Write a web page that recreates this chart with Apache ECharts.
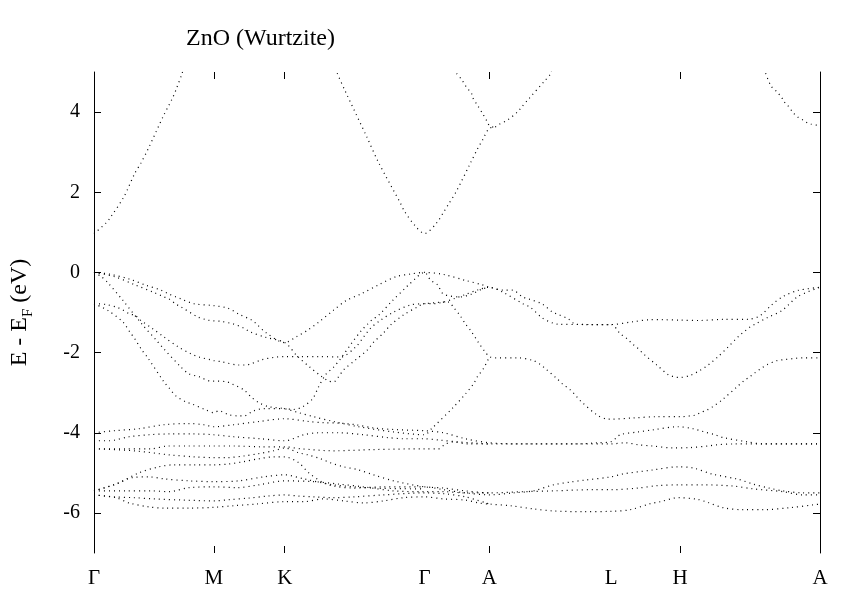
<!DOCTYPE html>
<html>
<head>
<meta charset="utf-8">
<script src="https://cdn.jsdelivr.net/npm/echarts@6/dist/echarts.min.js"></script>
<style>
  html, body { margin: 0; padding: 0; background: #fff; }
  #chart { width: 861px; height: 603px; }
</style>
</head>
<body>
<div id="chart"></div>
<script>
// k-path positions (distance along the path) and their labels
var kPos = [0, 120, 191, 331, 396, 518, 587, 727];
var kLabels = ['Γ', 'M', 'K', 'Γ', 'A', 'L', 'H', 'A'];
var kTicks = [120, 191, 396, 587];      // M, K, A, H get tick marks
var eTicks = [-6, -4, -2, 0, 2, 4];

// conduction band pieces (E - EF in eV)
var cbGM = [[0,0.97],[12,1.23],[17,1.39],[30,1.89],[41,2.48],[47,2.73],[54,3.07],[70,3.93],[75,4.17],[79,4.37],[82,4.55],[88,4.95],[91,5.2]];
var cbKGAL = [[240,5.2],[243,5.0],[252,4.5],[273,3.39],[285,2.74],[307,1.72],[311,1.52],[322,1.15],[331,0.97],
  [343,1.23],[350,1.5],[355,1.7],[363,2.03],[377,2.73],[384,3.08],[389,3.3],[396,3.6],[401,3.62],
  [406,3.7],[414,3.8],[424,4.0],[428,4.12],[435,4.32],[452,4.8],[457,4.95],[460,5.2]];
var cbGA = [[360,5.2],[363,4.97],[368,4.82],[373,4.62],[378,4.47],[379,4.37],[384,4.17],[389,3.97],[394,3.75],[396,3.66],[401,3.62]];
var cbHA = [[669,5.2],[672,5.0],[678,4.65],[684,4.5],[689,4.35],[690,4.28],[694,4.19],[700,3.99],[705,3.87],[710,3.8],[715,3.72],[718,3.7],[727,3.66]];

// O 2p valence bands (on the A-L-H-A face bands come in pairs, one of each pair listed)
var vbA = [[0,0],[15,-0.04],[36,-0.17],[52,-0.32],[67,-0.44],[75,-0.54],[82,-0.61],[87,-0.66],[100,-0.78],[120,-0.83],
  [134,-0.89],[145,-1.04],[158,-1.19],[162,-1.27],[172,-1.5],[191,-1.75],
  [203,-1.6],[214,-1.44],[225,-1.24],[240,-0.94],[252,-0.71],[267,-0.54],[285,-0.31],[302,-0.11],[317,-0.04],[331,0],
  [350,-0.05],[372,-0.2],[389,-0.31],[396,-0.37],
  [410,-0.44],[419,-0.44],[429,-0.61],[435,-0.66],[449,-0.79],[459,-0.99],[464,-1.04],[475,-1.16],[482,-1.29],[499,-1.3],[518,-1.3],
  [540,-1.23],[557,-1.18],[569,-1.18],[587,-1.19],[607,-1.2],[630,-1.17],[655,-1.17],[667,-1.08],[679,-0.8],[690,-0.6],[705,-0.45],[727,-0.37]];
var vbB = [[0,0],[20,-0.1],[40,-0.3],[60,-0.5],[70,-0.61],[75,-0.66],[82,-0.79],[87,-0.86],[104,-1.11],[114,-1.19],[120,-1.21],
  [127,-1.22],[140,-1.29],[150,-1.39],[157,-1.49],[172,-1.62],[191,-1.75],
  [204,-2.1],[216,-2.36],[227,-2.58],[235,-2.71],[240,-2.73],[245,-2.6],[250,-2.43],[262,-2.18],[274,-1.93],[280,-1.74],[290,-1.51],[297,-1.31],[310,-1.06],[324,-0.86],[331,-0.78],
  [340,-0.78],[350,-0.74],[360,-0.66],[372,-0.55],[385,-0.43],[396,-0.37],
  [410,-0.5],[430,-0.79],[437,-0.87],[449,-1.14],[459,-1.26],[464,-1.29],[490,-1.3],[518,-1.3],
  [527,-1.53],[534,-1.66],[539,-1.78],[544,-1.88],[551,-2.05],[564,-2.32],[575,-2.55],[582,-2.61],[587,-2.62],
  [597,-2.57],[607,-2.44],[615,-2.31],[625,-2.1],[635,-1.86],[642,-1.68],[647,-1.56],[652,-1.46],[657,-1.36],[662,-1.29],[674,-1.13],[689,-0.95],[705,-0.6],[727,-0.37]];
var vbC = [[0,-0.78],[12,-0.8],[24,-0.88],[29,-0.94],[36,-1.04],[41,-1.07],[47,-1.2],[58,-1.39],[70,-1.61],[84,-1.85],[97,-2.03],[105,-2.11],[117,-2.18],[120,-2.2],
  [128,-2.23],[145,-2.31],[152,-2.31],[157,-2.28],[168,-2.18],[180,-2.12],[191,-2.1],
  [205,-2.1],[225,-2.1],[247,-2.11],[262,-1.86],[270,-1.61],[277,-1.39],[287,-1.19],[300,-0.99],[317,-0.81],[331,-0.78],
  [344,-0.75],[355,-0.74],[360,-0.87],[367,-1.09],[372,-1.29],[377,-1.44],[385,-1.75],[391,-1.96],[396,-2.1],
  [402,-2.13],[424,-2.13],[440,-2.2],[447,-2.3],[452,-2.4],[464,-2.66],[469,-2.78],[477,-2.93],[482,-3.06],[487,-3.2],[504,-3.56],[515,-3.66],[518,-3.66],
  [540,-3.63],[564,-3.6],[587,-3.6],[597,-3.58],[602,-3.56],[607,-3.5],[614,-3.43],[619,-3.36],[629,-3.18],[645,-2.83],[651,-2.7],[657,-2.6],[662,-2.5],[669,-2.38],[674,-2.3],[684,-2.2],[690,-2.18],[700,-2.15],[710,-2.13],[727,-2.13]];
var vbD = [[0,-0.78],[14,-0.95],[29,-1.24],[36,-1.49],[41,-1.66],[48,-1.94],[53,-2.1],[70,-2.73],[75,-2.88],[82,-3.08],[92,-3.23],[98,-3.28],[112,-3.43],[120,-3.5],
  [125,-3.45],[135,-3.55],[145,-3.58],[150,-3.58],[160,-3.45],[170,-3.4],[191,-3.4],
  [200,-3.42],[209,-3.35],[219,-3.15],[225,-2.85],[232,-2.55],[240,-2.36],[247,-2.15],[257,-1.8],[268,-1.44],[274,-1.29],[279,-1.17],[285,-1.07],[299,-0.7],[311,-0.41],[316,-0.29],[331,0],
  [337,-0.19],[344,-0.31],[350,-0.54],[367,-0.61],[378,-0.54],[389,-0.41],[396,-0.37]];
var vbE = [[0,0],[7,-0.1],[14,-0.26],[29,-0.7],[48,-1.29],[63,-1.71],[70,-1.91],[87,-2.36],[95,-2.53],[105,-2.6],[117,-2.71],[120,-2.71],
  [133,-2.73],[138,-2.78],[150,-2.93],[157,-3.1],[165,-3.25],[175,-3.35],[191,-3.4],
  [205,-3.5],[220,-3.6],[240,-3.72],[265,-3.85],[300,-3.98],[331,-4.05],
  [338,-3.9],[360,-3.36],[372,-3.03],[380,-2.78],[384,-2.6],[390,-2.4],[396,-2.1]];

// Zn 3d bands
var dbA = [[0,-4.0],[20,-3.95],[45,-3.9],[70,-3.8],[95,-3.77],[110,-3.8],[120,-3.85],
  [140,-3.8],[165,-3.72],[191,-3.65],
  [215,-3.72],[230,-3.75],[245,-3.76],[262,-3.8],[280,-3.88],[300,-3.92],[331,-3.95],
  [350,-4.0],[372,-4.15],[396,-4.25],
  [430,-4.28],[480,-4.28],[505,-4.25],[518,-4.22],[527,-4.05],[545,-3.98],[559,-3.93],[585,-3.85],[600,-3.9],[610,-3.97],[622,-4.05],[630,-4.12],[655,-4.23],[670,-4.28],[727,-4.28]];
var dbB = [[0,-4.2],[15,-4.2],[35,-4.1],[55,-4.05],[75,-4.03],[100,-4.03],[120,-4.05],
  [140,-4.1],[167,-4.15],[191,-4.2],
  [210,-4.05],[225,-4.0],[245,-4.0],[270,-4.05],[294,-4.12],[310,-4.15],[331,-4.15],
  [345,-4.18],[365,-4.23],[396,-4.28]];
var dbC = [[0,-4.4],[30,-4.4],[57,-4.4],[74,-4.33],[95,-4.33],[120,-4.33],
  [140,-4.33],[167,-4.35],[191,-4.35],
  [207,-4.4],[240,-4.45],[280,-4.42],[331,-4.4],
  [345,-4.4],[352,-4.28],[360,-4.23],[375,-4.28],[396,-4.28],
  [440,-4.28],[518,-4.28],[532,-4.25],[545,-4.3],[559,-4.33],[580,-4.38],[597,-4.37],[615,-4.33],[624,-4.3],[640,-4.28],[727,-4.28]];
var dbD = [[0,-4.4],[40,-4.45],[75,-4.55],[100,-4.6],[120,-4.62],
  [133,-4.62],[150,-4.58],[165,-4.52],[180,-4.45],[191,-4.38],
  [205,-4.5],[214,-4.55],[227,-4.65],[237,-4.75],[250,-4.85],[264,-4.92],[280,-5.05],[300,-5.2],[331,-5.35],
  [350,-5.38],[372,-5.45],[396,-5.5],
  [430,-5.47],[460,-5.45],[500,-5.42],[518,-5.42],[545,-5.38],[564,-5.32],[587,-5.3],[610,-5.3],[640,-5.33],[660,-5.4],[690,-5.47],[710,-5.55],[727,-5.55]];
var dbE = [[0,-5.45],[25,-5.25],[45,-5.0],[65,-4.85],[80,-4.8],[100,-4.8],[120,-4.8],
  [135,-4.78],[150,-4.72],[165,-4.65],[180,-4.6],[191,-4.6],
  [205,-4.75],[215,-5.0],[230,-5.25],[240,-5.33],[260,-5.38],[290,-5.35],[331,-5.35],
  [350,-5.42],[372,-5.5],[396,-5.55],
  [420,-5.5],[440,-5.45],[460,-5.3],[477,-5.23],[492,-5.18],[518,-5.1],[529,-5.03],[559,-4.93],[585,-4.85],[600,-4.88],[619,-5.03],[645,-5.16],[660,-5.28],[676,-5.38],[690,-5.45],[710,-5.5],[727,-5.5]];
var dbF = [[0,-5.45],[30,-5.45],[57,-5.45],[75,-5.47],[95,-5.37],[120,-5.35],
  [143,-5.37],[165,-5.3],[191,-5.2],
  [220,-5.22],[245,-5.28],[270,-5.35],[300,-5.45],[331,-5.47],
  [350,-5.47],[372,-5.5],[396,-5.5]];
var dbG = [[0,-5.55],[22,-5.62],[35,-5.75],[55,-5.85],[70,-5.88],[95,-5.88],[120,-5.86],
  [140,-5.82],[162,-5.78],[191,-5.72],
  [210,-5.72],[230,-5.65],[250,-5.7],[270,-5.75],[290,-5.7],[310,-5.62],[331,-5.6],
  [350,-5.65],[372,-5.68],[385,-5.75],[396,-5.78],
  [417,-5.82],[440,-5.9],[460,-5.95],[490,-5.97],[518,-5.96],[537,-5.92],[557,-5.77],[567,-5.72],[585,-5.62],[604,-5.66],[615,-5.74],[630,-5.87],[650,-5.92],[670,-5.92],[697,-5.87],[720,-5.8],[727,-5.78]];
var dbH = [[0,-5.55],[20,-5.6],[40,-5.62],[60,-5.65],[90,-5.68],[120,-5.7],
  [135,-5.67],[155,-5.63],[174,-5.58],[191,-5.55],
  [205,-5.58],[220,-5.6],[240,-5.62],[260,-5.6],[290,-5.55],[331,-5.5],
  [350,-5.52],[372,-5.6],[396,-5.78]];
var dbI = [[0,-5.45],[20,-5.3],[38,-5.12],[55,-5.1],[70,-5.15],[95,-5.2],[120,-5.22],
  [145,-5.2],[170,-5.1],[191,-5.05],
  [210,-5.15],[240,-5.3],[280,-5.38],[331,-5.4]];

var bands = [cbGM, cbKGAL, cbGA, cbHA, vbA, vbB, vbC, vbD, vbE,
  dbA, dbB, dbC, dbD, dbE, dbF, dbG, dbH, dbI];

var serif = "'Liberation Serif', 'DejaVu Serif', serif";

var myChart = echarts.init(document.getElementById('chart'));

var series = bands.map(function(b) {
    return {
        type: 'line',
        data: b,
        showSymbol: false,
        smooth: 0.3,
        silent: true,
        lineStyle: { color: '#000', width: 1.2, type: [1, 4] }
    };
});

var option = {
    animation: false,
    backgroundColor: '#fff',
    title: {
        text: 'ZnO (Wurtzite)',
        left: 181,
        top: 22,
        textStyle: { fontFamily: serif, fontSize: 24, fontWeight: 'normal', color: '#000' }
    },
    grid: { left: 93, right: 41, top: 72, bottom: 50 },
    xAxis: [{
        type: 'value', min: 0, max: 727, position: 'bottom',
        axisLine: { show: false, onZero: false },
        splitLine: { show: false },
        axisTick: { inside: true, length: 7, customValues: kTicks, lineStyle: { color: '#000' } },
        axisLabel: {
            customValues: kPos, margin: 15,
            fontFamily: serif, fontSize: 21, color: '#000',
            formatter: function(v) { return kLabels[kPos.indexOf(v)]; }
        }
    }, {
        type: 'value', min: 0, max: 727, position: 'top',
        axisLine: { show: false, onZero: false },
        splitLine: { show: false },
        axisTick: { inside: true, length: 7, customValues: kTicks, lineStyle: { color: '#000' } },
        axisLabel: { show: false }
    }],
    yAxis: [{
        type: 'value', min: -7, max: 5, position: 'left',
        name: '{n|E - E}{s|F}{n| (eV)}',
        nameLocation: 'middle',
        nameGap: 58,
        nameTextStyle: {
            rich: {
                n: { fontFamily: serif, fontSize: 24, color: '#000', verticalAlign: 'top' },
                s: { fontFamily: serif, fontSize: 15, color: '#000', verticalAlign: 'top', padding: [13, 0, 0, 0] }
            }
        },
        axisLine: { show: true, onZero: false, lineStyle: { color: '#000', width: 1 } },
        splitLine: { show: false },
        axisTick: { inside: true, length: 7, customValues: eTicks, lineStyle: { color: '#000' } },
        axisLabel: { customValues: eTicks, margin: 14, fontFamily: serif, fontSize: 20, color: '#000' }
    }, {
        type: 'value', min: -7, max: 5, position: 'right',
        axisLine: { show: true, onZero: false, lineStyle: { color: '#000', width: 1 } },
        splitLine: { show: false },
        axisTick: { inside: true, length: 7, customValues: eTicks, lineStyle: { color: '#000' } },
        axisLabel: { show: false }
    }],
    series: series
};

myChart.setOption(option);
</script>
</body>
</html>
